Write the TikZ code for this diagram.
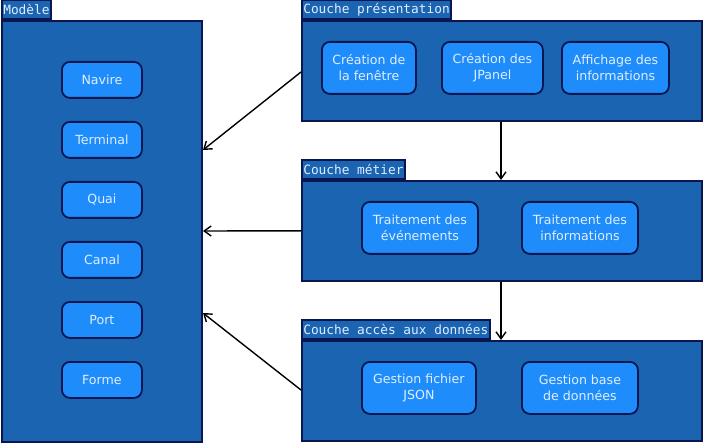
\documentclass[tikz,border=0pt]{standalone}
\usepackage{fontspec}
\setmainfont{DejaVu Sans}
\newfontfamily\tabfont{DejaVu Sans Mono}
\usetikzlibrary{arrows.meta}
\definecolor{boxfill}{HTML}{1A64B2}
\definecolor{innerfill}{HTML}{1E8CFA}
\definecolor{edge}{HTML}{0A1650}
\definecolor{txt}{HTML}{E0EEFF}
\tikzset{
  x=1pt,y=-1pt,
  layer/.style={draw=edge,fill=boxfill,line width=1.6pt},
  tabbox/.style={draw=edge,fill=boxfill,line width=1.6pt,text=txt,font=\tabfont\fontsize{12.8}{14}\selectfont,inner xsep=1.5pt,inner ysep=0pt,anchor=south west,minimum height=19pt},
  item/.style={draw=edge,fill=innerfill,line width=1.8pt,rounded corners=8pt,text=txt,font=\fontsize{12.6}{16}\selectfont,align=center,inner sep=0pt},
  link/.style={-{Straight Barb[length=7pt,width=10pt]},line width=1.4pt,black}
}
\begin{document}
\begin{tikzpicture}
\useasboundingbox (0,0) rectangle (703,443);
% Modele
\node[layer,minimum width=200pt,minimum height=421pt,anchor=north west,inner sep=0pt] (mod) at (1,20) {};
\node[tabbox] (modt) at (1,20) {Modèle};
\foreach \n/\t/\y in {nav/Navire/61,ter/Terminal/121,qua/Quai/181,can/Canal/241,por/Port/301,for/Forme/361}{
  \node[item,minimum width=80pt,minimum height=36pt,anchor=north west] (\n) at (61,\y) {\t};
}
% presentation
\node[layer,minimum width=400pt,minimum height=100pt,anchor=north west,inner sep=0pt] (pre) at (301,20) {};
\node[tabbox] (pret) at (301,20) {Couche présentation};
\node[item,minimum width=94pt,minimum height=52pt,anchor=north west] (p1) at (321,41) {Création de\\la fenêtre};
\node[item,minimum width=101pt,minimum height=52pt,anchor=north west] (p2) at (441,41) {Création des\\JPanel};
\node[item,minimum width=107pt,minimum height=52pt,anchor=north west] (p3) at (561,41) {Affichage des\\informations};
% metier
\node[layer,minimum width=400pt,minimum height=100pt,anchor=north west,inner sep=0pt] (met) at (301,180) {};
\node[tabbox] (mett) at (301,180) {Couche métier};
\node[item,minimum width=116pt,minimum height=52pt,anchor=north west] (m1) at (361,201) {Traitement des\\événements};
\node[item,minimum width=116pt,minimum height=52pt,anchor=north west] (m2) at (521,201) {Traitement des\\informations};
% acces
\node[layer,minimum width=400pt,minimum height=100pt,anchor=north west,inner sep=0pt] (acc) at (301,340) {};
\node[tabbox] (acct) at (301,340) {Couche accès aux données};
\node[item,minimum width=114pt,minimum height=52pt,anchor=north west] (a1) at (361,361) {Gestion fichier\\JSON};
\node[item,minimum width=116pt,minimum height=52pt,anchor=north west] (a2) at (521,361) {Gestion base\\de données};
% arrows
\coordinate (t1) at (203,150);
\coordinate (t2) at (203,231);
\coordinate (t3) at (203,313);
\draw[link] (pre.west |- 0,72) -- (t1);
\draw[link] (met.west) -- (t2);
\draw[link] (acc.west |- 0,390) -- (t3);
\draw[link] (pre.south -| 501,0) -- (met.north -| 501,0);
\draw[link] (met.south -| 501,0) -- (acc.north -| 501,0);
\end{tikzpicture}
\end{document}
